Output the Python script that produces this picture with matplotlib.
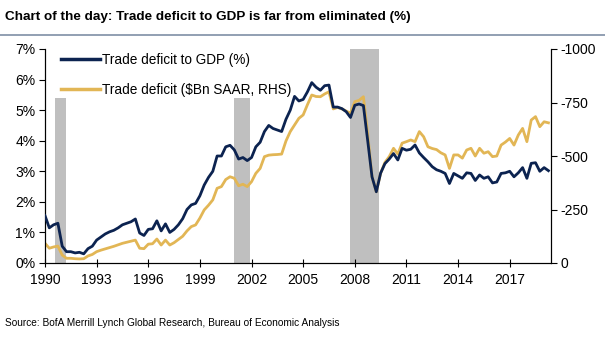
import numpy as np
import matplotlib
matplotlib.use("Agg")
import matplotlib.pyplot as plt
from matplotlib.lines import Line2D

plt.rcParams['font.family'] = ['Liberation Sans', 'DejaVu Sans']

title = "Chart of the day: Trade deficit to GDP is far from eliminated (%)"
source = "Source: BofA Merrill Lynch Global Research, Bureau of Economic Analysis"
label_gdp = "Trade deficit to GDP (%)"
label_bn = "Trade deficit ($Bn SAAR, RHS)"

start_year = 1990
# quarterly, 1990Q1 .. 2019Q2
deficit_gdp = [
    1.55, 1.15, 1.25, 1.30,
    0.55, 0.37, 0.37, 0.33,
    0.35, 0.30, 0.47, 0.55,
    0.75, 0.85, 0.95, 1.02,
    1.07, 1.15, 1.25, 1.30,
    1.35, 1.44, 0.98, 0.90,
    1.10, 1.12, 1.38, 1.05,
    1.28, 1.00, 1.10, 1.25,
    1.45, 1.75, 1.90, 1.95,
    2.20, 2.55, 2.80, 3.00,
    3.50, 3.50, 3.80, 3.85,
    3.70, 3.40, 3.45, 3.35,
    3.45, 3.80, 3.95, 4.30,
    4.50, 4.40, 4.35, 4.30,
    4.70, 5.00, 5.45, 5.30,
    5.35, 5.60, 5.90, 5.75,
    5.65, 5.80, 5.82, 5.10,
    5.10, 5.05, 4.95, 4.76,
    5.16, 5.20, 5.15, 4.00,
    2.82, 2.33, 2.94, 3.25,
    3.40, 3.58, 3.37, 3.75,
    3.69, 3.72, 3.86, 3.60,
    3.45, 3.31, 3.15, 3.05,
    3.00, 2.93, 2.60, 2.93,
    2.85, 2.77, 2.95, 2.93,
    2.70, 2.88, 2.77, 2.82,
    2.62, 2.65, 2.93, 2.95,
    3.00, 2.82, 2.95, 3.12,
    2.77, 3.26, 3.28, 3.00,
    3.12, 3.02,
]
deficit_bn = [
    -92, -69, -75, -79,
    -37, -22, -22, -20,
    -19, -20, -33, -40,
    -53, -60, -66, -72,
    -78, -85, -92, -97,
    -102, -107, -69, -67,
    -88, -90, -112, -84,
    -107, -84, -95, -110,
    -125, -150, -170, -178,
    -210, -248, -270, -295,
    -349, -357, -390, -403,
    -396, -361, -368, -357,
    -380, -419, -442, -497,
    -504, -506, -507, -509,
    -570, -614, -645, -676,
    -692, -740, -785, -778,
    -777, -790, -800, -720,
    -727, -720, -710, -700,
    -754, -760, -777, -600,
    -403, -333, -419, -470,
    -497, -536, -509, -560,
    -567, -575, -567, -614,
    -590, -543, -535, -530,
    -515, -505, -442, -505,
    -505, -490, -528, -536,
    -500, -536, -513, -520,
    -497, -500, -551, -565,
    -582, -551, -598, -629,
    -567, -668, -684, -637,
    -660, -655,
]
rec_start = [1990.6, 2001.0, 2007.75]
rec_end = [1991.2, 2001.9, 2009.4]
rec_top = [5.4, 5.4, 7.0]

left_ticks = [0, 1, 2, 3, 4, 5, 6, 7]
left_labels = ["0%", "1%", "2%", "3%", "4%", "5%", "6%", "7%"]
right_ticks = [0, -250, -500, -750, -1000]
right_labels = ["0", "-250", "-500", "-750", "-1000"]
x_ticks = [1990, 1993, 1996, 1999, 2002, 2005, 2008, 2011, 2014, 2017]

navy = "#0c2350"
gold = "#e2b655"
shade = "#bfbfbf"

x = start_year + np.arange(len(deficit_gdp)) / 4.0
x2 = start_year + np.arange(len(deficit_bn)) / 4.0

fig = plt.figure(figsize=(6.05, 3.41), dpi=100)
ax = fig.add_axes([45/605, 1-263/341, (551-45)/605, (263-49)/341])
ax2 = ax.twinx()

ax.set_xlim(1990, 2019.4)
ax.set_ylim(0, 7)
ax2.set_ylim(0, -1000)

for s, e, t in zip(rec_start, rec_end, rec_top):
    ax2.axvspan(s, e, ymin=0, ymax=t/7.0, color=shade, lw=0, zorder=0)

ax2.plot(x2, deficit_bn, color=gold, lw=2.0, zorder=2, solid_joinstyle='round')
ax.set_zorder(ax2.get_zorder() + 1)
ax.patch.set_visible(False)
ax2.patch.set_visible(False)
ax.plot(x, deficit_gdp, color=navy, lw=2.0, zorder=3, solid_joinstyle='round')

ax.set_yticks(left_ticks)
ax.set_yticklabels(left_labels)
ax.set_xticks(x_ticks)
ax.set_xticklabels([str(v) for v in x_ticks])
ax2.set_yticks(right_ticks)
ax2.set_yticklabels(right_labels)

for a in (ax, ax2):
    a.spines['top'].set_visible(False)
    for sp in a.spines.values():
        sp.set_color('black')
        sp.set_linewidth(0.8)
ax.tick_params(axis='y', direction='out', length=4, width=0.8, labelsize=10, pad=3)
ax.tick_params(axis='x', direction='inout', length=6, width=0.8, labelsize=10, pad=4)
ax2.tick_params(axis='y', direction='out', length=4, width=0.8, labelsize=10, pad=3)

handles = [Line2D([], [], color=navy, lw=2.5), Line2D([], [], color=gold, lw=2.5)]
ax.legend(handles, [label_gdp, label_bn], loc='upper left', bbox_to_anchor=(0.015, 1.02),
          frameon=False, fontsize=9.8, handlelength=2.9, handletextpad=0.15, labelspacing=1.15,
          borderaxespad=0.2)

fig.text(5/605, 1-17/341, title, fontsize=9.7, fontweight='bold', va='center', ha='left')
fig.add_artist(Line2D([0, 1], [1-35/341, 1-35/341], color="#7f8fa6", lw=1.2))
fig.text(5/605, 1-323/341, source, fontsize=7.3, va='center', ha='left')

fig.savefig("out.png", dpi=100)
